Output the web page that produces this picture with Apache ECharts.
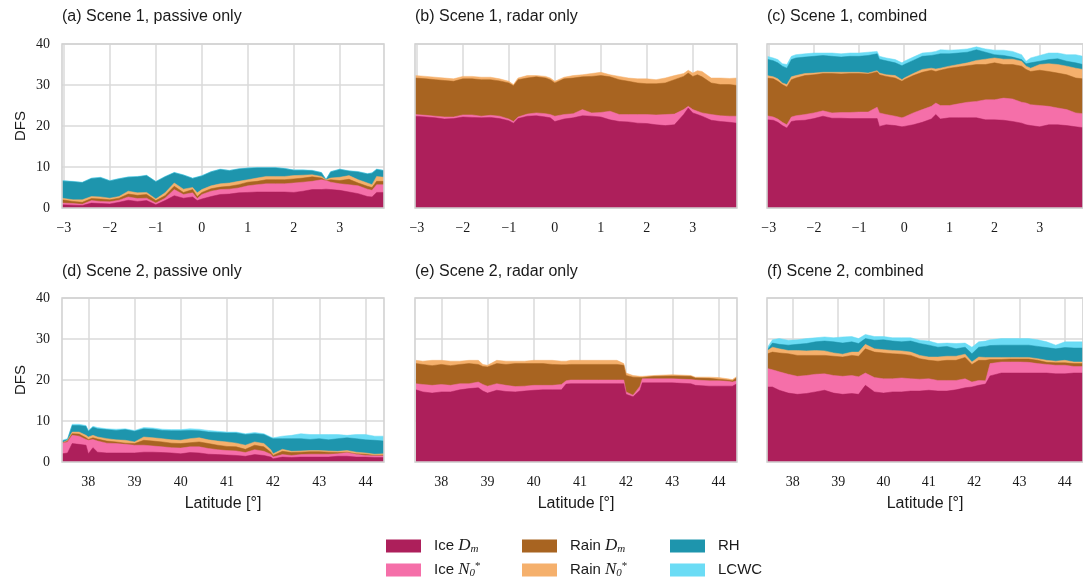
<!DOCTYPE html>
<html><head><meta charset="utf-8">
<script src="https://cdn.jsdelivr.net/npm/echarts@6/dist/echarts.min.js"></script>
<style>html,body{margin:0;padding:0;background:#fff}#c{width:1083px;height:583px}</style>
</head><body><div id="c"></div>
<script>
// ---------- tick labels ----------
const ticksScene1 = [-3, -2, -1, 0, 1, 2, 3];
const ticksScene2 = [38, 39, 40, 41, 42, 43, 44];
const yTicks = [0, 10, 20, 30, 40];
const seriesNames = ['Ice Dm', 'Ice N0*', 'Rain Dm', 'Rain N0*', 'RH', 'LCWC'];
const panelTitles = ['(a) Scene 1, passive only', '(b) Scene 1, radar only', '(c) Scene 1, combined',
                     '(d) Scene 2, passive only', '(e) Scene 2, radar only', '(f) Scene 2, combined'];

// ---------- (a) Scene 1, passive only ----------
const latA = [-3.04,-2.8,-2.6,-2.4,-2.2,-2.0,-1.8,-1.6,-1.4,-1.2,-1.0,-0.8,-0.6,-0.4,-0.2,-0.1,0,0.2,0.4,0.6,0.8,1.0,1.2,1.4,1.6,1.8,2.0,2.2,2.4,2.6,2.7,2.8,3.0,3.2,3.4,3.6,3.7,3.8,3.96];
const iceDmA = [0.8,0.7,0.6,1.2,1.1,1.0,1.4,1.9,1.6,1.8,0.8,1.8,3.0,2.4,2.7,1.8,2.2,2.8,3.3,3.4,3.7,3.8,3.9,3.9,3.9,3.9,3.8,4.1,4.5,4.5,4.6,4.5,4.3,3.9,3.5,2.8,2.7,3.8,3.8];
const iceNA = [0.4,0.4,0.3,0.6,0.5,0.5,0.5,0.8,0.7,0.6,0.4,0.6,1.5,0.9,1.0,0.5,1.1,1.3,1.2,1.2,1.2,1.6,1.8,2.0,2.0,2.0,2.3,2.2,2.0,2.4,2.1,1.8,1.6,1.8,1.9,1.8,1.6,1.9,1.9];
const rainDmA = [0.8,0.5,0.5,0.5,0.6,0.5,0.5,0.7,0.8,0.9,0.6,0.6,0.8,0.5,0.8,0.5,0.5,0.6,0.6,0.7,0.8,0.9,0.8,1.0,1.0,1.0,1.0,1.0,1.1,0.4,0.0,0.6,0.8,1.3,0.7,0.7,0.7,0.8,0.8];
const rainNA = [0.4,0.4,0.6,0.5,0.5,0.4,0.4,0.7,0.6,0.5,0.4,0.7,0.8,0.8,0.5,0.9,0.7,0.7,0.8,0.8,0.8,0.6,0.8,0.8,0.8,0.8,0.8,0.7,0.5,0.4,0.2,0.4,0.8,0.9,0.8,0.8,0.7,1.2,1.0];
const rhA = [4.2,4.4,4.2,4.4,4.7,4.2,4.3,3.4,3.9,4.1,4.2,3.9,2.5,3.4,2.2,3.8,3.3,3.4,3.5,3.0,3.0,2.8,2.5,2.1,2.1,1.9,1.3,1.2,1.0,0.9,0.0,1.5,1.9,1.1,1.9,2.2,2.8,1.7,1.6];
const lcwcA = [0.1,0.1,0.1,0.1,0.1,0.1,0.1,0.1,0.1,0.1,0.1,0.1,0.1,0.1,0.1,0.1,0.1,0.1,0.1,0.1,0.1,0.1,0.1,0.1,0.1,0.1,0.1,0.1,0.1,0.1,0.1,0.1,0.1,0.1,0.1,0.1,0.1,0.1,0.1];

// ---------- (b) Scene 1, radar only ----------
const latB = [-3.04,-2.8,-2.6,-2.4,-2.2,-2.0,-1.8,-1.6,-1.4,-1.2,-1.0,-0.9,-0.8,-0.6,-0.4,-0.2,-0.1,0,0.2,0.4,0.6,0.8,1.0,1.2,1.4,1.6,1.8,2.0,2.2,2.4,2.6,2.8,2.9,3.0,3.1,3.2,3.4,3.6,3.8,3.96];
const iceDmB = [22.4,22.2,22.0,21.7,21.8,22.2,22.1,22.0,22.1,21.8,21.3,20.7,21.8,22.4,22.5,22.2,22.0,21.1,21.7,22.0,22.5,22.4,22.2,21.5,21.1,21.0,20.7,20.6,20.3,20.1,20.3,22.8,24.4,23.2,22.8,22.4,21.4,21.1,20.9,20.7];
const iceNB = [0.4,0.4,0.4,0.5,0.4,0.5,0.6,0.4,0.5,0.6,0.4,0.4,0.4,0.5,0.7,0.8,0.8,1.3,1.1,1.0,1.5,0.8,1.1,2.1,1.7,1.8,2.1,2.2,2.4,2.7,2.6,1.2,0.4,0.8,0.8,0.8,1.4,1.4,1.5,1.7];
const rainDmB = [8.9,8.9,8.9,8.9,8.7,8.8,8.8,8.9,8.7,8.6,8.8,8.7,9.1,8.8,8.8,8.7,8.5,8.1,8.7,8.7,8.0,8.9,9.0,8.4,8.5,8.1,7.7,7.5,7.6,7.7,8.4,8.1,8.1,8.1,8.9,8.8,7.7,7.6,7.7,7.5];
const rainNB = [0.6,0.6,0.6,0.6,0.6,0.6,0.6,0.6,0.6,0.5,0.4,0.3,0.4,0.6,0.3,0.4,0.4,0.4,0.4,0.6,0.5,0.7,0.8,0.5,0.8,0.8,1.0,1.2,1.0,1.2,1.0,0.7,0.7,0.8,1.0,1.3,1.2,1.6,1.5,1.8];

// ---------- (c) Scene 1, combined ----------
const latC = [-3.04,-2.9,-2.8,-2.7,-2.6,-2.5,-2.4,-2.2,-2.0,-1.8,-1.6,-1.4,-1.2,-1.0,-0.8,-0.6,-0.55,-0.4,-0.2,-0.05,0,0.2,0.4,0.6,0.7,0.8,1.0,1.2,1.4,1.6,1.8,2.0,2.2,2.4,2.6,2.7,2.8,3.0,3.2,3.4,3.6,3.8,3.96];
const iceDmC = [21.5,21.4,20.9,20.1,19.5,21.1,21.3,21.4,21.8,22.4,21.9,21.9,21.8,21.8,21.8,21.8,19.9,20.3,20.1,19.8,19.9,20.3,20.9,21.7,22.8,21.7,22.0,22.0,22.0,22.0,21.5,21.5,21.4,21.1,20.7,20.3,20.1,19.8,20.3,20.3,20.1,19.8,19.6];
const iceNC = [1.0,0.8,0.8,0.8,0.8,1.1,1.2,1.4,1.4,1.3,1.3,1.4,1.5,1.6,1.6,2.8,3.3,2.5,2.3,2.2,2.3,2.9,3.1,3.1,2.8,3.3,3.0,3.4,3.8,4.0,4.9,4.9,5.4,5.5,5.1,5.3,5.1,5.2,4.5,4.1,3.9,3.4,3.4];
const rainDmC = [9.2,9.3,9.2,9.2,9.2,9.1,9.2,9.5,9.3,9.1,9.6,9.4,9.5,9.4,9.3,8.6,9.3,9.3,9.3,8.9,9.1,9.1,9.1,8.8,7.7,8.6,9.1,9.0,8.9,9.0,8.6,9.0,8.2,8.4,8.8,8.2,8.1,8.6,8.5,8.5,8.5,8.5,8.5];
const rainNC = [0.6,0.5,0.6,0.4,0.6,0.7,0.6,0.5,0.4,0.3,0.3,0.4,0.3,0.3,0.2,0.3,0.4,0.4,0.6,0.4,0.4,0.5,0.7,0.5,0.6,0.5,0.5,0.6,0.7,1.0,1.3,1.2,1.3,1.3,1.2,0.8,0.8,1.4,1.9,2.1,2.1,2.4,2.3];
const rhC = [4.0,3.9,3.9,4.1,4.0,4.2,4.3,4.0,4.1,4.1,3.9,3.7,3.9,3.9,4.3,4.1,3.4,3.4,3.1,3.4,3.3,3.2,3.2,3.1,3.5,3.5,3.0,2.8,2.6,2.6,1.7,0.8,0.9,0.5,0.4,0.6,1.3,0.8,1.0,1.4,1.2,1.3,1.2];
const lcwcC = [0.7,0.7,0.8,0.6,0.9,0.8,0.8,0.8,0.8,0.6,0.8,0.8,0.8,0.8,0.8,0.6,0.7,0.7,0.8,0.7,0.8,0.8,0.8,0.8,0.8,1.0,0.9,0.8,0.8,0.7,0.8,1.1,1.3,1.4,1.2,0.6,1.2,1.4,1.6,1.4,1.6,2.0,2.0];

// ---------- (d) Scene 2, passive only ----------
const latD = [37.43,37.55,37.65,37.8,37.95,38.0,38.1,38.2,38.4,38.6,38.8,39.0,39.2,39.4,39.6,39.8,40.0,40.2,40.4,40.6,40.8,41.0,41.2,41.4,41.6,41.8,41.95,42.0,42.2,42.4,42.6,42.8,43.0,43.2,43.4,43.6,43.8,44.0,44.2,44.4];
const iceDmD = [2.0,2.2,4.5,4.3,4.1,2.0,3.5,2.4,2.2,2.2,2.2,2.2,2.4,2.4,2.3,2.2,2.0,2.3,2.2,1.9,1.8,1.7,1.6,1.4,1.8,1.6,1.2,0.8,1.2,1.1,1.2,1.2,1.2,1.2,1.4,1.4,1.2,1.2,1.1,1.1];
const iceND = [2.6,2.7,2.0,2.0,1.4,3.3,2.0,2.7,2.4,2.3,2.1,1.9,1.7,1.5,1.4,1.3,1.4,1.4,1.5,1.4,1.2,1.1,1.1,0.9,1.2,1.0,0.7,0.4,0.6,0.5,0.6,0.7,0.7,0.7,0.6,0.9,0.7,0.4,0.4,0.4];
const rainDmD = [0.0,0.2,0.4,0.5,0.4,0.2,0.4,0.5,0.5,0.4,0.3,0.4,1.2,1.2,1.2,1.1,1.1,1.0,1.2,1.2,1.1,1.0,1.0,0.8,1.1,1.1,0.5,0.4,0.8,0.7,0.6,0.6,0.6,0.5,0.3,0.1,0.1,0.3,0.1,0.2];
const rainND = [0.1,0.2,0.4,0.5,0.6,0.6,0.6,0.5,0.6,0.5,0.7,0.4,0.8,0.8,0.8,0.8,0.8,1.0,1.0,0.9,1.0,1.1,0.9,1.0,0.8,0.8,0.6,0.4,0.5,0.3,0.3,0.3,0.3,0.3,0.3,0.4,0.4,0.3,0.3,0.3];
const rhD = [0.4,0.2,1.6,1.6,2.2,1.4,2.0,2.0,2.2,2.3,2.6,2.6,2.0,2.1,2.0,2.2,2.3,2.0,1.7,1.9,2.1,2.2,2.5,2.6,2.0,2.2,2.9,3.7,2.6,3.1,3.0,2.7,2.9,2.7,3.1,3.1,3.3,3.2,3.4,3.1];
const lcwcD = [0.2,0.2,0.3,0.3,0.2,0.2,0.2,0.3,0.2,0.3,0.2,0.2,0.3,0.3,0.3,0.3,0.3,0.4,0.4,0.4,0.3,0.2,0.2,0.2,0.3,0.2,0.2,0.2,0.6,0.8,1.2,1.2,1.0,1.3,1.0,0.6,1.0,1.3,1.0,1.2];

// ---------- (e) Scene 2, radar only ----------
const latE = [37.45,37.6,37.8,38.0,38.2,38.4,38.6,38.8,38.9,39.0,39.2,39.4,39.6,39.8,40.0,40.2,40.4,40.6,40.7,40.8,41.0,41.4,41.8,41.95,42.0,42.15,42.3,42.35,42.6,43.0,43.4,43.5,43.8,44.0,44.2,44.3,44.4];
const iceDmE = [17.6,17.1,16.8,17.1,17.1,17.6,17.9,18.1,17.3,16.8,17.5,17.2,17.1,17.3,17.5,17.6,17.6,17.6,19.0,19.1,19.1,19.1,19.1,19.1,16.5,15.9,17.5,19.3,19.3,19.3,19.1,18.7,18.5,18.5,18.5,18.5,19.1];
const iceNE = [1.5,1.8,1.9,1.8,1.6,1.5,1.2,1.4,1.6,1.7,1.6,1.5,1.3,1.2,1.2,1.1,1.1,1.3,0.8,0.9,0.9,0.9,0.9,0.9,0.6,0.4,1.0,1.0,1.0,1.0,1.0,1.3,1.3,1.3,1.2,1.0,0.7];
const rainDmE = [4.9,4.9,4.8,4.9,4.8,4.7,4.9,4.3,4.4,4.7,4.9,5.1,5.6,5.5,5.3,5.3,5.1,4.8,3.9,3.8,3.8,3.8,3.8,3.6,4.0,4.4,2.1,0.3,0.6,0.7,0.8,0.5,0.6,0.4,0.3,0.3,0.8];
const rainNE = [0.8,0.8,1.3,1.0,1.1,0.8,0.8,1.0,0.5,0.4,0.8,0.8,0.6,0.6,0.8,0.8,1.0,0.9,0.9,1.0,1.0,1.0,1.0,0.4,0.6,0.4,0.3,0.3,0.2,0.3,0.2,0.2,0.3,0.4,0.3,0.3,0.3];

// ---------- (f) Scene 2, combined ----------
const latF = [37.44,37.55,37.7,37.9,38.1,38.3,38.5,38.7,38.9,39.1,39.3,39.45,39.6,39.8,40.0,40.2,40.4,40.6,40.8,41.0,41.2,41.4,41.6,41.8,41.95,42.1,42.25,42.35,42.6,42.8,43.0,43.2,43.4,43.6,43.8,44.0,44.2,44.4];
const iceDmF = [18.3,18.3,17.5,16.8,16.5,16.7,17.1,17.5,16.8,16.5,16.7,16.5,18.7,17.1,16.8,17.1,17.1,17.3,17.3,17.5,17.3,17.3,17.6,18.1,18.3,18.7,19.0,21.0,21.7,21.7,21.7,21.7,21.7,21.7,21.5,21.5,21.7,21.7];
const iceNF = [4.5,4.2,4.5,4.6,4.4,4.4,4.3,4.0,4.3,4.4,4.4,4.3,3.0,3.5,3.5,3.2,3.4,3.0,2.9,2.8,2.6,2.6,2.3,2.2,1.2,1.2,0.8,3.0,2.7,2.7,2.7,2.6,2.3,2.1,2.1,2.1,1.6,1.6];
const rainDmF = [3.6,4.3,4.6,5.0,5.1,4.9,4.6,4.5,4.7,4.7,4.9,5.0,5.9,6.2,6.3,6.1,5.8,5.7,5.0,4.5,4.7,4.9,4.9,5.2,4.3,4.9,5.0,1.0,0.6,0.7,0.7,0.8,0.8,0.5,0.6,0.6,0.7,0.7];
const rainNF = [0.8,1.2,1.0,0.8,1.2,1.1,1.2,1.1,0.8,0.7,0.8,1.0,1.1,0.8,0.8,0.8,0.8,0.8,0.8,0.8,1.0,1.0,1.0,0.8,0.6,0.8,0.7,0.5,0.5,0.4,0.4,0.4,0.4,0.5,0.4,0.6,0.4,0.4];
const rhF = [0.2,1.0,1.1,1.3,1.5,1.8,2.1,2.4,2.7,2.7,2.5,2.1,1.4,2.1,2.4,2.3,2.2,2.7,2.9,2.9,2.4,2.4,1.8,1.7,2.0,2.4,2.7,2.9,3.0,3.0,3.0,3.0,3.0,3.1,3.0,3.1,3.4,3.4];
const lcwcF = [0.6,0.8,1.4,1.2,1.1,1.2,1.0,1.0,1.0,1.5,1.3,1.2,1.0,0.9,0.8,0.8,1.0,0.8,0.8,1.0,0.9,0.8,1.3,1.0,1.6,1.3,1.3,1.4,1.6,1.6,1.6,1.6,1.6,1.4,0.9,1.4,1.5,1.5];

// ---------- styling ----------
const COLORS = {'Ice Dm':'#ad1f5b','Ice N0*':'#f56fa9','Rain Dm':'#a86421','Rain N0*':'#f5b06c','RH':'#1e95ad','LCWC':'#6bdcf5'};
const TXT = '#1a1a1a';
const SANS = 'Liberation Sans';
const SERIF = 'Liberation Serif';
const GRIDC = '#dadada';

const panels = [
  {lat: latA, layers: [iceDmA, iceNA, rainDmA, rainNA, rhA, lcwcA], range: [-3.04, 3.96], ticks: ticksScene1},
  {lat: latB, layers: [iceDmB, iceNB, rainDmB, rainNB], range: [-3.04, 3.96], ticks: ticksScene1},
  {lat: latC, layers: [iceDmC, iceNC, rainDmC, rainNC, rhC, lcwcC], range: [-3.04, 3.96], ticks: ticksScene1},
  {lat: latD, layers: [iceDmD, iceND, rainDmD, rainND, rhD, lcwcD], range: [37.43, 44.4], ticks: ticksScene2},
  {lat: latE, layers: [iceDmE, iceNE, rainDmE, rainNE], range: [37.43, 44.4], ticks: ticksScene2},
  {lat: latF, layers: [iceDmF, iceNF, rainDmF, rainNF, rhF, lcwcF], range: [37.43, 44.4], ticks: ticksScene2}
];
const gridPos = [[62,44],[415,44],[767,44],[62,298],[415,298],[767,298]];

const grid = gridPos.map(([l,t]) => ({left:l, top:t, width:322, height:164, show:true,
  borderColor:'#d2d2d2', borderWidth:1.6, backgroundColor:'rgba(0,0,0,0)', z:5}));

const xAxis = panels.map((p, i) => ({
  type:'value', gridIndex:i, min:p.range[0], max:p.range[1],
  axisLine:{show:false},
  axisTick:{show:false, customValues:p.ticks},
  axisLabel:{customValues:p.ticks, fontFamily:SERIF, fontSize:14, color:TXT, margin:13,
    formatter: v => String(v).replace('-', '\u2212')},
  splitLine:{show:true, lineStyle:{color:GRIDC, width:1.5}},
  name: i >= 3 ? 'Latitude [°]' : '', nameLocation:'middle', nameGap:34,
  nameTextStyle:{fontFamily:SANS, fontSize:16, color:TXT}
}));
const yAxis = panels.map((p, i) => ({
  type:'value', gridIndex:i, min:0, max:40, interval:10,
  axisLine:{show:false}, axisTick:{show:false},
  axisLabel:{show: i % 3 === 0, fontFamily:SERIF, fontSize:14, color:TXT, margin:12},
  splitLine:{show:true, lineStyle:{color:GRIDC, width:1.5}},
  name: i % 3 === 0 ? 'DFS' : '', nameLocation:'middle', nameGap:34,
  nameTextStyle:{fontFamily:SANS, fontSize:15, color:TXT}
}));

// Stacked areas: each layer is filled from 0 up to the running total of the layers
// below it and itself; upper layers are drawn first so lower ones sit in front.
const series = [];
panels.forEach((p, i) => {
  const tops = [];
  let run = p.lat.map(() => 0);
  p.layers.forEach(arr => { run = run.map((v, j) => v + arr[j]); tops.push(run); });
  for (let k = p.layers.length - 1; k >= 0; k--) {
    const name = seriesNames[k];
    const c = COLORS[name];
    series.push({
      type:'line', name, xAxisIndex:i, yAxisIndex:i,
      data: p.lat.map((x, j) => [x, +tops[k][j].toFixed(3)]),
      symbol:'none', showSymbol:false, silent:true, animation:false,
      itemStyle:{color:c}, lineStyle:{width:0.5, color:c}, areaStyle:{color:c, opacity:1, origin:'start'}, z:2
    });
  }
});

const title = panelTitles.map((t, i) => ({
  text:t, left:gridPos[i][0], top: i < 3 ? 9 : 264, padding:0,
  textStyle:{fontFamily:SANS, fontSize:16, fontWeight:'normal', color:TXT}
}));

const LABELS = {
  'Ice Dm':'Ice {it|D}{sub|m}', 'Ice N0*':'Ice {it|N}{sub|0}{sup|*}',
  'Rain Dm':'Rain {it|D}{sub|m}', 'Rain N0*':'Rain {it|N}{sub|0}{sup|*}',
  'RH':'RH', 'LCWC':'LCWC'
};
const legendBase = {
  orient:'vertical', icon:'rect', itemWidth:35, itemHeight:13, itemGap:6, top:537, padding:0,
  itemStyle:{borderWidth:0},
  formatter: n => LABELS[n],
  textStyle:{fontFamily:SANS, fontSize:15, color:TXT, lineHeight:18, padding:[0,0,0,8],
    rich:{
      it:{fontFamily:SERIF, fontStyle:'italic', fontSize:17, lineHeight:18},
      sub:{fontFamily:SERIF, fontStyle:'italic', fontSize:11, lineHeight:11, verticalAlign:'bottom'},
      sup:{fontFamily:SERIF, fontSize:11, lineHeight:11, verticalAlign:'top'}
    }}
};
const legend = [
  Object.assign({}, legendBase, {left:386, data:['Ice Dm','Ice N0*']}),
  Object.assign({}, legendBase, {left:522, data:['Rain Dm','Rain N0*']}),
  Object.assign({}, legendBase, {left:670, data:['RH','LCWC']})
];

const chart = echarts.init(document.getElementById('c'), null, {renderer:'canvas'});
chart.setOption({animation:false, backgroundColor:'#ffffff', title, legend, grid, xAxis, yAxis, series});
</script>
</body></html>
